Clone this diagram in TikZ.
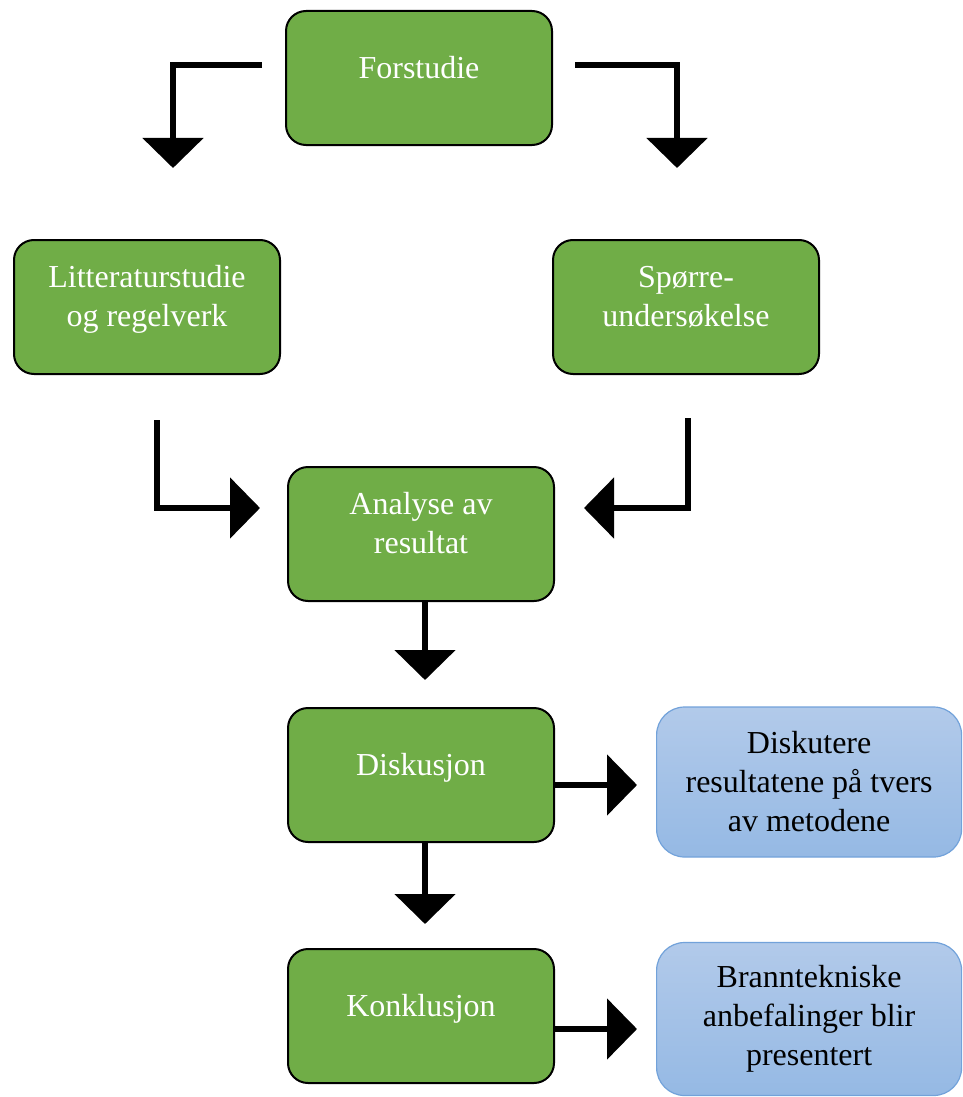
\documentclass[tikz,border=0pt]{standalone}
\usepackage{fontspec}
\setmainfont{Liberation Serif}
\usepackage{xcolor}
\usetikzlibrary{arrows.meta,positioning}

\definecolor{stepgreen}{HTML}{70AD47}
\definecolor{notetop}{RGB}{178,202,234}
\definecolor{notebot}{RGB}{149,185,228}
\definecolor{noteline}{RGB}{114,162,218}

\begin{document}
\begin{tikzpicture}[
    node distance=93pt and 4pt,
    stepbox/.style={draw=black, line width=2pt, fill=stepgreen, rounded corners=20pt,
                    align=center, text=white, font=\fontsize{32}{39}\selectfont,
                    minimum width=266pt, minimum height=134pt,
                    execute at end node={\rule[-22pt]{0pt}{22pt}}},
    notebox/.style={draw=noteline, line width=1.2pt, top color=notetop, bottom color=notebot,
                    rounded corners=28pt, align=center, font=\fontsize{32}{39}\selectfont,
                    minimum width=305pt, minimum height=150pt},
    arr/.style={-{Triangle[length=30pt,width=60pt]}, line width=5.5pt}
  ]
  \useasboundingbox (0,0) rectangle (962pt,-1097pt);

  \node[stepbox] (forst) at (419pt,-78pt) {Forstudie};
  \node[stepbox, below left=93pt and 4pt of forst]  (litt)   {Litteraturstudie\\og regelverk};
  \node[stepbox, below right=93pt and -1pt of forst] (sporre) {Spørre-\\undersøkelse};
  \node[stepbox, below=320pt of forst, xshift=2pt]  (analyse) {Analyse av\\resultat};
  \node[stepbox, below=105pt of analyse] (disk) {Diskusjon};
  \node[stepbox, below=105pt of disk]    (konk) {Konklusjon};
  \node[notebox, right=101pt of disk, yshift=-7pt]  (diskutere) {Diskutere\\resultatene på tvers\\av metodene};
  \node[notebox, right=101pt of konk, yshift=-3pt, minimum height=153pt] (anbef) {Branntekniske\\anbefalinger blir\\presentert};

  \draw[arr] ([xshift=-23pt,yshift=13pt]forst.west) -| ([xshift=26pt,yshift=71pt]litt.north);
  \draw[arr] ([xshift=22pt,yshift=13pt]forst.east) -| ([xshift=-9pt,yshift=71pt]sporre.north);
  \draw[arr] ([xshift=10pt,yshift=-45pt]litt.south) |- ([xshift=-27pt,yshift=26pt]analyse.west);
  \draw[arr] ([xshift=2pt,yshift=-43pt]sporre.south) |- ([xshift=29pt,yshift=26pt]analyse.east);
  \draw[arr] ([xshift=4pt]analyse.south) -- ([xshift=4pt,yshift=27pt]disk.north);
  \draw[arr] ([xshift=4pt]disk.south) -- ([xshift=4pt,yshift=24pt]konk.north);
  \draw[arr, shorten >=19pt] ([yshift=-10pt]disk.east) -- ([yshift=-10pt]disk.east -| diskutere.west);
  \draw[arr, shorten >=19pt] ([yshift=-13pt]konk.east) -- ([yshift=-13pt]konk.east -| anbef.west);
\end{tikzpicture}
\end{document}
